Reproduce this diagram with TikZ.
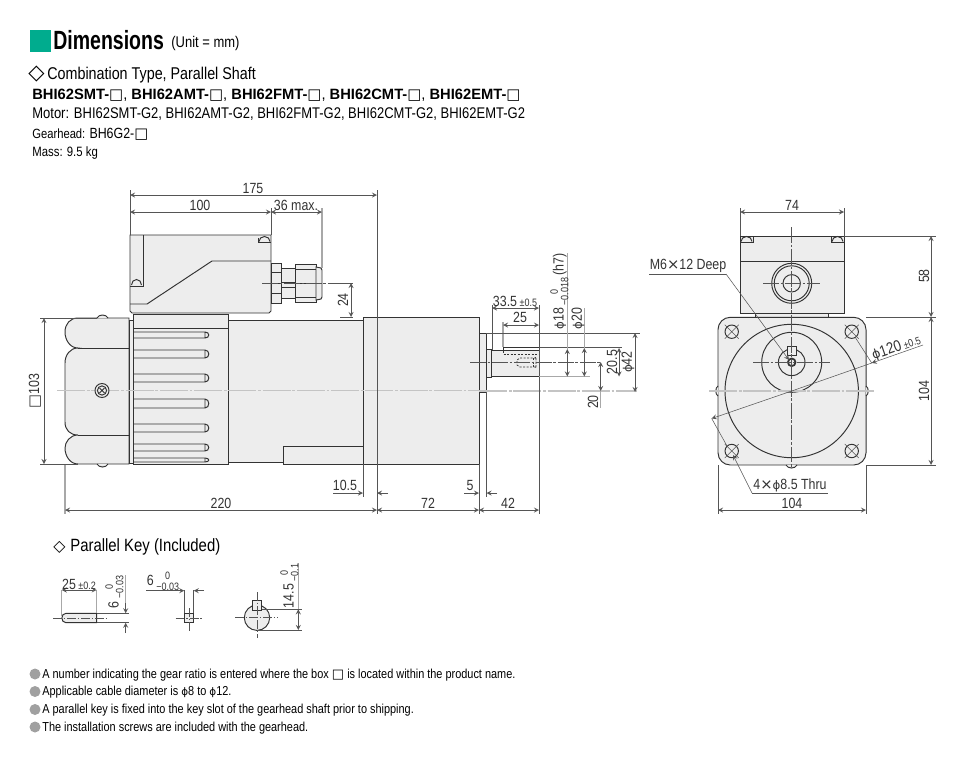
\documentclass[tikz,border=0pt]{standalone}
\usepackage{fontspec}
\setmainfont[FakeStretch=0.84]{Liberation Sans}
\newfontfamily\headfont[FakeStretch=0.74]{Liberation Sans}
\newfontfamily\widefont[FakeStretch=0.985]{Liberation Sans}
\newfontfamily\symfont{DejaVu Sans}
\newfontfamily\diafont[Scale=0.8]{DejaVu Sans}
\definecolor{headgreen}{HTML}{00AC8E}
\definecolor{bodygray}{HTML}{EDEDED}
\definecolor{inkgray}{HTML}{333333}
\definecolor{leadgray}{HTML}{555555}
\definecolor{extgray}{HTML}{A8A8A8}
\definecolor{axisgray}{HTML}{C4C4C4}
\definecolor{dotgray}{HTML}{A0A0A0}
\newcommand{\dia}{{\diafont ϕ}}
\newcommand{\slotbox}{{\symfont□}}
\newcommand{\timessign}{{\symfont×}}
\newcommand{\tolstack}[2]{{\fontsize{6.1}{6}\selectfont\begin{tabular}[c]{@{}c@{}}#1\\#2\end{tabular}}}
\tikzset{
  part/.style={draw=inkgray, line width=0.55pt, fill=bodygray},
  edge/.style={draw=inkgray, line width=0.55pt},
  hidden/.style={draw=inkgray, line width=0.4pt, dash pattern=on 1.2pt off 0.8pt},
  dimline/.style={draw=leadgray, line width=0.3pt, >=stealth, <->},
  tipline/.style={draw=leadgray, line width=0.3pt, >=stealth, ->},
  extline/.style={draw=leadgray, line width=0.3pt},
  palext/.style={draw=extgray, line width=0.6pt},
  axis/.style={draw=axisgray, line width=1.1pt, dash pattern=on 16pt off 1pt on 1.5pt off 1pt},
  thinaxis/.style={draw=leadgray, line width=0.3pt, dash pattern=on 9pt off 1pt on 1.5pt off 1pt},
  dimtext/.style={inner sep=0pt, text=inkgray, font=\fontsize{8.4}{9}\selectfont},
  notetext/.style={inner sep=0pt, anchor=west, text=black, font=\fontsize{7.4}{8}\selectfont}
}
\begin{document}
\begin{tikzpicture}[x=0.02cm, y=-0.02cm]
  \useasboundingbox (0,0) rectangle (962,764);

  \fill[headgreen] (30,30) rectangle (51,52);
  \node[inner sep=0pt, anchor=west, font=\fontsize{15}{16}\selectfont\headfont\bfseries] (title) at (53,40) {Dimensions};
  \node[inner sep=0pt, anchor=west, font=\fontsize{8.8}{9}\selectfont] (unit) at (171,43) {(Unit = mm)};
  \node[inner sep=0pt, anchor=west, font=\fontsize{12}{12}\selectfont\symfont] (combmark) at (28,74) {◇};
  \node[inner sep=0pt, anchor=west, font=\fontsize{9.7}{11}\selectfont] (combtype) at (47,75) {Combination Type, Parallel Shaft};
  \node[inner sep=0pt, anchor=west, font=\fontsize{8.5}{10}\selectfont] (products) at (32,95) {\widefont\bfseries BHI62SMT-\slotbox{\mdseries,} BHI62AMT-\slotbox{\mdseries,} BHI62FMT-\slotbox{\mdseries,} BHI62CMT-\slotbox{\mdseries,} BHI62EMT-\slotbox};
  \node[notetext, font=\fontsize{8.8}{9}\selectfont] (motorline) at (32,114) {Motor: BHI62SMT-G2, BHI62AMT-G2, BHI62FMT-G2, BHI62CMT-G2, BHI62EMT-G2};
  \node[notetext, font=\fontsize{7.6}{9}\selectfont] (gearline) at (32,134) {Gearhead: {\fontsize{8.4}{9}\selectfont BH6G2-\slotbox}};
  \node[notetext, font=\fontsize{7.7}{9}\selectfont] (massline) at (32,153) {Mass: 9.5 kg};

  % side view
  \draw[part] (130,235) -- (271,235) -- (271,311) -- (269,313) -- (132,313) -- (130,311) -- cycle;
  \draw[edge] (143,235) -- (143,286) -- (130,286);
  \draw[edge] (131.5,285) arc (180:360:5 and 5.5);
  \draw[edge] (130,304) -- (147,304) -- (212,261) -- (271,261);
  \draw[edge] (258,242) -- (271,242) (258,242) -- (258,238);
  \draw[edge] (259,241.5) arc (180:360:5.5 and 5);
  \draw[part] (271,263) rectangle (281,303);
  \draw[edge] (271,272) -- (281,272) (271,293) -- (281,293) (271,283) -- (281,283);
  \draw[part] (281,268) rectangle (295,298);
  \draw[edge] (281,282) -- (295,282) (281,287) -- (295,287);
  \draw[part] (295,264) rectangle (316,302);
  \draw[edge] (295,269) -- (316,269) (295,283) -- (316,283) (295,297) -- (316,297);
  \draw[part] (316,267) -- (321,268) -- (322,270) -- (322,297) -- (321,299) -- (316,300) -- cycle;
  \draw[part] (78,318) -- (129,318) -- (129,464) -- (78,464) .. controls (70,464) and (65,456) .. (65,448) .. controls (65,442) and (70,435) .. (78,435) .. controls (70,435) and (65,430) .. (65,422) -- (65,363) .. controls (65,355) and (70,348) .. (78,348) .. controls (70,348) and (65,340) .. (65,332) .. controls (65,324) and (70,318) .. (78,318) -- cycle;
  \draw[edge] (78,348) -- (129,348) (78,435) -- (129,435);
  \draw[part] (97,318) .. controls (99,314) and (106,314) .. (108,318);
  \draw[part] (97,464) .. controls (99,468) and (106,468) .. (108,464);
  \draw[part] (129,320) rectangle (133,463);
  \draw[part] (228,320) rectangle (363,462);
  \draw[part] (133,314) rectangle (228,464);
  \draw[edge] (133,328) -- (228,328);
  \foreach \slottop/\slotlow in {332/338, 350/358, 374/382, 399/408, 424/432, 444/451, 458/462}
    \draw[edge] (133,\slottop) -- (205,\slottop) .. controls (210,\slottop) and (210,\slotlow) .. (205,\slotlow) -- (133,\slotlow) (205,\slottop) -- (205,\slotlow);
  \draw[part] (283,446) rectangle (363,464);
  \draw[part] (363,317) rectangle (479,464);
  \draw[part] (479,333) rectangle (486.5,392);
  \draw[part] (486.5,349) rectangle (491.7,377);
  \draw[part] (491.7,350) rectangle (539,376);
  \draw[edge] (503,347.5) -- (539,347.5) -- (539,350);
  \draw[hidden] (503,347.5) -- (503,354) -- (539,354);
  \draw[hidden] (520,358) -- (535,358) -- (536,357) -- (536,368) -- (535,367) -- (520,367) -- (517,365) -- (517,360) -- cycle;
  \draw[hidden] (533,358) -- (533,367);
  \draw[axis] (57,390.5) -- (479,390.5);
  \draw[axis] (479,391) -- (637,391);
  \draw[thinaxis] (470,362) -- (600,362);
  \draw[thinaxis] (262,283) -- (340,283);
  \draw[edge, fill=bodygray] (102,390.5) circle (7);
  \draw[edge] (102,390.5) circle (4.6);
  \draw[edge] (99.5,388) -- (104.5,393) (99.5,393) -- (104.5,388);

  \draw[extline] (130,190) -- (130,235) (271,208) -- (271,235);
  \draw[palext] (322,208) -- (322,268);
  \draw[extline] (377,190) -- (377,514);
  \draw[palext] (65,464) -- (65,514);
  \draw[extline] (363,464) -- (363,497) (479,464) -- (479,514) (486.5,392) -- (486.5,497);
  \draw[extline] (492,305) -- (492,350) (539,305) -- (539,514);
  \draw[palext] (503,322) -- (503,347);
  \draw[extline] (340,283) -- (353,283) (340,317) -- (353,317);
  \draw[extline] (486,333) -- (640,333) (539,347.5) -- (622,347.5);
  \draw[palext] (539,376.5) -- (590,376.5) (567.3,253) -- (567.3,349) (584.3,308) -- (584.3,348) (600.7,391) -- (600.7,408);
  \draw[extline] (40,318) -- (97,318) (40,464) -- (78,464);
  \draw[dimline] (130,195) -- (377,195);
  \draw[dimline] (130,212) -- (271,212);
  \draw[dimline] (271,212) -- (322,212);
  \draw[dimline] (351,283) -- (351,317);
  \draw[dimline] (44,318) -- (44,464);
  \draw[dimline] (65,510) -- (377,510);
  \draw[dimline] (377,510) -- (479,510);
  \draw[dimline] (479,510) -- (539,510);
  \draw[tipline] (333,493) -- (363,493);
  \draw[tipline] (388,493) -- (377,493);
  \draw[tipline] (464,493) -- (479,493);
  \draw[tipline] (497,493) -- (486.5,493);
  \draw[dimline] (492,308) -- (539,308);
  \draw[dimline] (503,325) -- (539,325);
  \draw[dimline] (567.3,349) -- (567.3,376.5);
  \draw[dimline] (584.3,348) -- (584.3,376.5);
  \draw[dimline] (619,348) -- (619,376.5);
  \draw[dimline] (635,333) -- (635,392);
  \draw[dimline] (600.7,362) -- (600.7,391);

  \node[dimtext] (len175) at (253,188) {175};
  \node[dimtext] (len100) at (200,205) {100};
  \node[dimtext] (lenmax) at (296,205) {36 max.};
  \node[dimtext, rotate=90] (len24) at (343,300) {24};
  \node[dimtext, rotate=90] (side103) at (35,391) {\slotbox 103};
  \node[dimtext] (len220) at (221,503) {220};
  \node[dimtext] (len105) at (345,485) {10.5};
  \node[dimtext] (len72) at (428,503) {72};
  \node[dimtext] (len5) at (470,485) {5};
  \node[dimtext] (len42) at (508,503) {42};
  \node[dimtext] (len335) at (515,301) {33.5\,{\fontsize{6.1}{6}\selectfont ±0.5}};
  \node[dimtext] (len25) at (520,317) {25};
  \node[dimtext, rotate=90, anchor=west] (dia18) at (561,330) {\dia 18\,\tolstack{0}{−0.018}\,(h7)};
  \node[dimtext, rotate=90, anchor=west] (dia20) at (578,330) {\dia 20};
  \node[dimtext, rotate=90] (len205) at (612,362) {20.5};
  \node[dimtext, rotate=90] (dia42) at (628,362) {\dia 42};
  \node[dimtext, rotate=90] (len20) at (593,402) {20};

  % front view
  \draw[part] (755,313) rectangle (828,317);
  \draw[part] (740,236) rectangle (844,313);
  \draw[edge] (740,261) -- (844,261);
  \foreach \capx in {740, 831} {
    \draw[edge] (\capx,242) -- ++(13,0) -- ++(0,-5) (\capx,242) -- ++(0,-5);
    \draw[edge] (\capx+1,241.5) arc (180:360:5.5 and 5);
  }
  \draw[edge] (791.7,283.3) circle (20);
  \draw[edge] (791.7,283.3) circle (17.5);
  \draw[edge] (791.7,283.3) circle (8.7);
  \draw[part, rounded corners=7] (718,317.3) rectangle (866,465);
  \draw[part] (718,386) .. controls (715,388) and (715,394) .. (718,396);
  \draw[part] (866,386) .. controls (869,388) and (869,394) .. (866,396);
  \draw[part] (786,465) .. controls (788,469) and (795,469) .. (797,465);
  \draw[edge] (791.7,391) circle (66.7);
  \draw[edge] (791.7,362.3) circle (30);
  \draw[edge] (791.7,362.3) circle (13.3);
  \draw[part] (787.3,346.7) rectangle (796.7,355.7);
  \draw[edge, line width=1pt] (791.7,362.3) circle (3.8);
  \foreach \holex/\holey in {731.7/331.7, 851.7/331.7, 731.7/451, 851.7/451} {
    \draw[edge] (\holex,\holey) circle (6.7);
    \draw[extline] (\holex-7,\holey-7) -- (\holex+7,\holey+7) (\holex-7,\holey+7) -- (\holex+7,\holey-7);
  }
  \draw[axis] (709,391) -- (874,391);
  \draw[thinaxis] (791.7,227) -- (791.7,467);
  \draw[thinaxis] (763,283.3) -- (820,283.3);
  \draw[thinaxis] (753,362.3) -- (830,362.3);

  \draw[extline] (740,208) -- (740,236) (844,208) -- (844,236);
  \draw[extline] (844,236) -- (936,236) (866,317) -- (936,317) (866,465) -- (936,465);
  \draw[extline] (718,465) -- (718,514) (866,465) -- (866,514);
  \draw[dimline] (740,212) -- (844,212);
  \draw[dimline] (931,236) -- (931,317);
  \draw[dimline] (931,317) -- (931,465);
  \draw[dimline] (718,510) -- (866,510);
  \draw[extline] (649,274) -- (726,274);
  \draw[tipline] (726,274) -- (789,360);
  \draw[extline] (752,493) -- (828,493);
  \draw[tipline] (752,493) -- (733,455);
  \draw[tipline] (923,345) -- (871.7,363);
  \draw[tipline] (791.7,391) -- (711.7,418.5);
  \draw[extline] (871.7,363) -- (791.7,391);
  \draw[extline] (711.7,418.5) -- (727,446) (855,337) -- (871.7,363);

  \node[dimtext] (wid74) at (792,205) {74};
  \node[dimtext, rotate=90] (high58) at (924,276) {58};
  \node[dimtext, rotate=90] (high104) at (924,391) {104};
  \node[dimtext] (wid104) at (792,503) {104};
  \node[dimtext] (tapnote) at (688,266) {M6\timessign 12 Deep};
  \node[dimtext] (holenote) at (790,485) {4\timessign\dia 8.5 Thru};
  \node[dimtext, font=\fontsize{9}{9}\selectfont, rotate=19, anchor=west] (dia120) at (872,356) {\dia 120\,{\fontsize{6.1}{6}\selectfont ±0.5}};

  % parallel key
  \node[inner sep=0pt, anchor=west, font=\fontsize{9}{11}\selectfont\symfont] (keymark) at (53,547) {◇};
  \node[inner sep=0pt, anchor=west, font=\fontsize{10.1}{11}\selectfont] (keytitle) at (70,547) {Parallel Key (Included)};

  \draw[part] (66,613.3) -- (96.7,613.3) -- (96.7,622.7) -- (66,622.7) .. controls (60.5,622.7) and (60.5,613.3) .. (66,613.3) -- cycle;
  \draw[thinaxis, dash pattern=on 5pt off 1pt on 1pt off 1pt] (53,618) -- (108,618);
  \draw[palext] (61.7,590) -- (61.7,616) (96.7,590) -- (96.7,613);
  \draw[palext] (125.7,575) -- (125.7,603);
  \draw[extline] (97,613.3) -- (129,613.3) (97,622.7) -- (129,622.7);
  \draw[dimline] (61.7,590) -- (96.7,590);
  \draw[tipline] (125.7,603) -- (125.7,613.3);
  \draw[tipline] (125.7,633) -- (125.7,622.7);
  \node[dimtext] (keylen) at (79,584) {25\,{\fontsize{6.1}{6}\selectfont ±0.2}};
  \node[dimtext, rotate=90] (keyhigh) at (116,592) {6\,\tolstack{0}{−0.03}};

  \draw[part] (184.3,613.3) rectangle (193.7,622.7);
  \draw[thinaxis, dash pattern=on 5pt off 1pt on 1pt off 1pt] (175.7,618) -- (201.7,618) (189,608) -- (189,631);
  \draw[extline] (184.3,590) -- (184.3,613) (193.7,590) -- (193.7,613);
  \draw[tipline] (146,590.7) -- (184.3,590.7);
  \draw[tipline] (204,590.7) -- (193.7,590.7);
  \node[dimtext] (keywid) at (163,583) {6\,\tolstack{0}{−0.03}};

  \draw[part] (257,617.7) circle (12.7);
  \draw[part] (252.3,600) rectangle (261.7,610);
  \draw[thinaxis, dash pattern=on 5pt off 1pt on 1pt off 1pt] (235,617.7) -- (278,617.7) (257,592) -- (257,638);
  \draw[palext] (298.3,563) -- (298.3,609);
  \draw[extline] (262,609.3) -- (302,609.3) (257,630) -- (302,630);
  \draw[dimline] (298.3,609.3) -- (298.3,630);
  \node[dimtext, rotate=90] (keydepth) at (291,586) {14.5\,\tolstack{0}{−0.1}};

  % notes
  \foreach \notey in {674, 691.5, 709.5, 727}
    \fill[dotgray] (35,\notey) circle (5.5);
  \node[notetext] (note1) at (42,675) {A number indicating the gear ratio is entered where the box \slotbox\ is located within the product name.};
  \node[notetext] (note2) at (42,692.5) {Applicable cable diameter is \dia 8 to \dia 12.};
  \node[notetext] (note3) at (42,710.5) {A parallel key is fixed into the key slot of the gearhead shaft prior to shipping.};
  \node[notetext] (note4) at (42,728) {The installation screws are included with the gearhead.};
\end{tikzpicture}
\end{document}
